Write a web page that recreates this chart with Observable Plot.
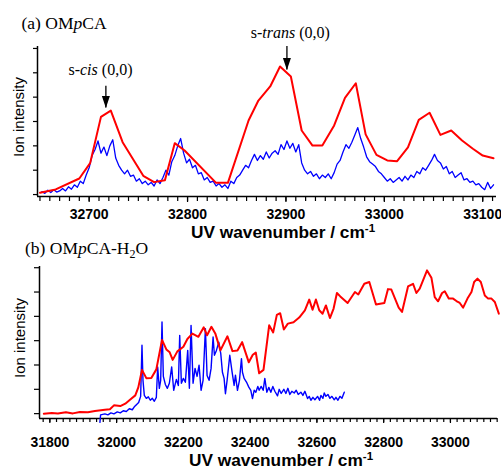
<!DOCTYPE html>
<html><head><meta charset="utf-8">
<script src="https://cdn.jsdelivr.net/npm/d3@7"></script>
<script src="https://cdn.jsdelivr.net/npm/@observablehq/plot@0.6"></script>
<style>
body{margin:0;background:#fff;}
#wrap{position:relative;width:501px;height:470px;overflow:hidden;background:#fff;}
#wrap svg{position:absolute;left:0;overflow:visible;}
</style>
</head><body><div id="wrap"></div>
<script>
// ---------- Panel (a) OMpCA ----------
const redAWn = [32650,32666,32690,32701,32712,32722,32734,32755,32766,32777,32787,32797,32829,32841,32862,32872,32884,32894,32905,32916,32927,32937,32949,32960,32971,32981,32992,33003,33013,33024,33035,33046,33057,33068,33079,33090,33100,33111];
const redAVal = [0.07,0.21,0.66,1.29,3.19,3.45,2.15,0.77,0.51,0.59,2.11,1.81,0.48,0.48,3.04,3.86,4.44,5.26,4.85,2.63,2.01,2.01,2.84,3.97,4.57,2.47,1.63,1.40,1.37,1.94,3.07,3.36,2.45,2.63,2.22,1.88,1.60,1.49];
const blueAStart = 32652, blueAStep = 3;
const blueAVal = [0.12,0.05,0.18,0.08,0.2,0.1,0.15,0.25,0.15,0.32,0.22,0.4,0.3,0.55,0.45,0.8,1.1,1.6,1.85,2.2,
1.7,1.95,1.6,2.0,2.25,1.5,1.2,1.0,0.85,1.0,0.75,0.8,0.55,0.65,0.45,0.55,0.4,0.5,0.35,0.6,
0.45,0.7,1.0,0.8,1.35,1.6,2.0,2.3,1.7,1.3,1.45,1.1,1.2,0.85,0.9,0.6,0.7,0.5,0.55,0.35,
0.45,0.3,0.4,0.25,0.55,0.45,0.7,0.8,1.0,1.2,1.1,1.4,1.65,1.4,1.6,1.45,1.75,1.5,1.7,1.8,
1.65,2.05,1.85,2.2,1.9,2.1,1.75,2.05,1.3,1.0,0.85,0.95,0.75,0.85,0.65,0.8,0.7,0.85,0.65,0.9,
1.25,1.4,1.75,2.05,1.9,2.15,2.45,2.75,2.3,1.95,1.55,1.35,1.25,1.15,0.95,0.85,0.7,0.55,0.65,0.5,
0.6,0.7,0.55,0.75,0.6,0.8,0.7,0.95,0.85,1.1,1.0,1.2,1.4,1.65,1.4,1.3,1.05,1.15,0.85,0.95,
0.7,0.8,0.9,0.6,0.65,0.5,0.55,0.4,0.45,0.3,0.2,0.5,0.25,0.4];
const xTicksA = [32700,32800,32900,33000,33100];
const xMinorA = d3.range(32650, 33111, 10);
const yTicks = [0,1,2,3,4,5,6];

// ---------- Panel (b) OMpCA-H2O ----------
const redBWn = [31782,31806,31824,31848,31869,31890,31914,31935,31965,31980,31992,32011,32026,32041,32056,32065,32076,32089,32104,32119,32136,32149,32159,32168,32182,32200,32212,32227,32245,32261,32271,32284,32296,32311,32332,32347,32362,32376,32396,32408,32417,32427,32440,32457,32469,32480,32490,32501,32513,32530,32547,32564,32577,32587,32597,32607,32617,32627,32639,32650,32660,32670,32692,32714,32724,32742,32757,32777,32802,32813,32823,32845,32855,32873,32888,32898,32908,32930,32943,32953,32963,32975,32983,32995,33008,33018,33028,33038,33051,33063,33071,33081,33091,33103,33113,33123,33133,33145];
const redBVal = [0.00,0.03,0.01,0.06,0.01,0.07,0.06,0.11,0.16,0.18,0.34,0.31,0.41,0.58,0.75,1.08,1.80,1.46,1.47,1.82,3.03,2.64,2.52,2.21,2.56,2.75,3.07,3.29,3.16,3.55,3.22,3.57,3.28,2.60,3.18,2.57,2.60,2.94,2.11,2.42,2.51,1.66,1.80,3.63,3.34,4.06,4.13,3.46,3.70,3.76,3.95,4.25,4.69,4.27,4.69,4.25,4.11,4.45,3.93,4.32,4.96,4.82,4.55,5.00,4.90,5.34,5.41,4.49,4.55,5.12,5.10,4.36,4.18,5.23,5.34,4.96,5.14,5.89,5.59,4.79,4.62,4.96,5.03,4.73,4.73,4.63,4.55,4.36,4.73,5.00,5.41,5.55,5.41,4.86,4.73,4.73,4.59,4.11];
const blueBWn = [31950,31952,31965,31974,31983,31992,32002,32011,32020,32029,32038,32047,32053,32060,32066,32072,32076,32079,32083,32089,32095,32101,32107,32113,32119,32123,32128,32132,32136,32140,32146,32152,32158,32165,32171,32179,32185,32189,32194,32200,32206,32213,32218,32223,32229,32235,32241,32247,32253,32259,32266,32271,32277,32283,32289,32293,32299,32306,32312,32317,32322,32326,32331,32339,32346,32352,32356,32362,32368,32374,32377,32382,32389,32396,32402,32407,32412,32417,32423,32427,32433,32439,32444,32450,32456,32462,32468,32474,32482,32487,32493,32501,32507,32513,32519,32525,32532,32538,32544,32552,32558,32564,32572,32577,32582,32588,32594,32602,32608,32612,32618,32622,32627,32633,32639,32645,32652,32657,32663,32669,32675,32682];
const blueBVal = [-0.36,-0.05,-0.01,-0.05,0.03,-0.01,0.07,0.03,0.12,0.09,0.20,0.16,0.28,0.38,0.46,0.71,2.81,1.37,0.75,0.63,0.69,0.55,0.63,0.51,0.67,1.92,1.04,1.37,3.77,1.53,1.20,1.04,1.25,1.92,0.96,1.41,1.16,3.22,1.25,1.45,1.29,2.60,1.04,3.63,1.25,1.86,1.53,1.99,0.96,1.37,3.49,1.57,1.37,1.86,3.15,2.40,2.60,2.94,2.47,1.70,1.45,0.82,1.37,2.40,1.71,1.16,1.58,0.96,1.37,2.26,1.70,1.45,1.30,1.09,0.96,0.62,0.96,0.88,1.12,0.96,1.12,0.96,1.45,0.88,1.08,0.88,1.12,0.92,0.73,1.00,0.83,1.00,0.83,1.04,0.79,0.92,0.85,0.96,0.79,0.88,0.75,0.92,0.62,0.71,0.55,0.67,0.57,0.71,0.55,0.75,0.63,0.85,0.71,0.79,0.63,0.71,0.57,0.67,0.55,0.71,0.63,0.88];
const xTicksB = [31800,32000,32200,32400,32600,32800,33000];
const xMinorB = d3.range(31780, 33141, 20);

// ---------- helpers ----------
const zip = (xs, ys) => xs.slice(0, Math.min(xs.length, ys.length)).map((x, i) => ({wn: x, v: ys[i]}));
const redA = zip(redAWn, redAVal);
const blueA = blueAVal.map((v, i) => ({wn: blueAStart + i * blueAStep, v}));
const redB = zip(redBWn, redBVal);
const blueB = zip(blueBWn, blueBVal);

const SANS = "'Liberation Sans', Arial, Helvetica, sans-serif";
const SERIF = "'Liberation Serif', 'Times New Roman', Times, serif";

// narrow filled arrow head with its tip at the anchor point, pointing down
const arrowHead = {draw(ctx) { ctx.moveTo(0, 0); ctx.lineTo(-4, -12); ctx.lineTo(4, -12); ctx.closePath(); }};

function richText(svg, x, y, parts, attrs) {
  const t = d3.select(svg).append("text").attr("x", x).attr("y", y).attr("fill", "#000").attr("text-anchor", "start");
  for (const [k, v] of Object.entries(attrs)) t.attr(k, v);
  for (const p of parts) {
    const s = t.append("tspan").text(p.t);
    if (p.i) s.attr("font-style", "italic");
    if (p.dy) s.attr("dy", p.dy);
    if (p.fs) s.attr("font-size", p.fs);
  }
  return t;
}

function panel(cfg) {
  const [x0] = cfg.xDomain, [y0] = cfg.yDomain;
  const arrows = cfg.arrows || [];
  return Plot.plot({
    width: 501, height: cfg.height,
    marginLeft: cfg.ml, marginRight: cfg.mr, marginTop: cfg.mt, marginBottom: cfg.mb,
    x: {domain: cfg.xDomain, label: null},
    y: {domain: cfg.yDomain, label: null},
    style: {fontFamily: SANS, background: "transparent", overflow: "visible"},
    marks: [
      Plot.axisX(cfg.minor, {tickSize: cfg.tickLen, tickFormat: () => "", label: null, strokeWidth: 1.2}),
      Plot.axisX(cfg.major, {tickSize: cfg.tickLen + 1, tickPadding: cfg.pad, label: null, tickFormat: d => String(d),
        fontSize: 14, fontWeight: "bold", strokeWidth: 1.2}),
      Plot.axisY(yTicks, {tickSize: cfg.yTickLen, tickFormat: () => "", label: null, strokeWidth: 1.2}),
      Plot.ruleX([x0], {strokeWidth: 1.5}),
      Plot.ruleY([y0], {strokeWidth: 1.5}),
      Plot.line(cfg.blue, {x: "wn", y: "v", stroke: "#0000ff", strokeWidth: cfg.blueW, curve: "linear"}),
      Plot.line(cfg.red, {x: "wn", y: "v", stroke: "#ff0000", strokeWidth: 2, curve: "linear"}),
      Plot.ruleX(arrows, {x: "x", y1: "y1", y2: "y2", stroke: "#000", strokeWidth: 1.3}),
      Plot.dot(arrows, {x: "x", y: "y2", symbol: arrowHead, fill: "#000", stroke: "none"})
    ]
  });
}

const wrap = document.getElementById("wrap");

// Panel a
const arrowsA = [{x: 32717, y1: 4.45, y2: 3.55}, {x: 32901, y1: 6.08, y2: 5.12}];
const plotA = panel({height: 230, ml: 37, mr: 5, mt: 46, mb: 34,
  xDomain: [32647.5, 33114], yDomain: [-0.08, 6.08],
  minor: xMinorA, major: xTicksA, tickLen: 5, yTickLen: 4, pad: 7, blueW: 1.3,
  blue: blueA, red: redA, arrows: arrowsA});
plotA.style.top = "0px";
wrap.appendChild(plotA);
{
  const sx = plotA.scale("x"), sy = plotA.scale("y");
  richText(plotA, 21.5, 29, [{t: "(a) OM"}, {t: "p", i: true}, {t: "CA"}], {"font-family": SERIF, "font-size": 17.5});
  richText(plotA, sx.apply(32712), sy.apply(4.88), [{t: "s-"}, {t: "cis", i: true}, {t: " (0,0)"}],
    {"font-family": SERIF, "font-size": 16, "text-anchor": "middle"});
  richText(plotA, sx.apply(32905), sy.apply(6.4), [{t: "s-"}, {t: "trans", i: true}, {t: " (0,0)"}],
    {"font-family": SERIF, "font-size": 16, "text-anchor": "middle"});
  richText(plotA, 0, 0, [{t: "Ion intensity"}], {"font-family": SANS, "font-size": 15, "text-anchor": "middle",
    transform: "translate(23.5,117) rotate(-90)"});
  richText(plotA, 283, 237.5, [{t: "UV wavenumber / cm"}, {t: "-1", dy: "-6", fs: 11.5}],
    {"font-family": SANS, "font-size": 17.3, "font-weight": "bold", "text-anchor": "middle"});
}

// Panel b
const plotB = panel({height: 240, ml: 39, mr: 4, mt: 36, mb: 52,
  xDomain: [31769, 33141], yDomain: [-0.2, 6.05],
  minor: xMinorB, major: xTicksB, tickLen: 4, yTickLen: 5, pad: 14, blueW: 1.4,
  blue: blueB, red: redB});
plotB.style.top = "230px";
wrap.insertBefore(plotB, plotA);
{
  richText(plotB, 25, 23.5, [{t: "(b) OM"}, {t: "p", i: true}, {t: "CA-H"}, {t: "2", dy: "4", fs: 12}, {t: "O", dy: "-4"}],
    {"font-family": SERIF, "font-size": 17.5});
  richText(plotB, 0, 0, [{t: "Ion intensity"}], {"font-family": SANS, "font-size": 15, "text-anchor": "middle",
    transform: "translate(24.5,108) rotate(-90)"});
  richText(plotB, 281, 236, [{t: "UV wavenumber / cm"}, {t: "-1", dy: "-6", fs: 11.5}],
    {"font-family": SANS, "font-size": 17.3, "font-weight": "bold", "text-anchor": "middle"});
}
</script>
</body></html>
